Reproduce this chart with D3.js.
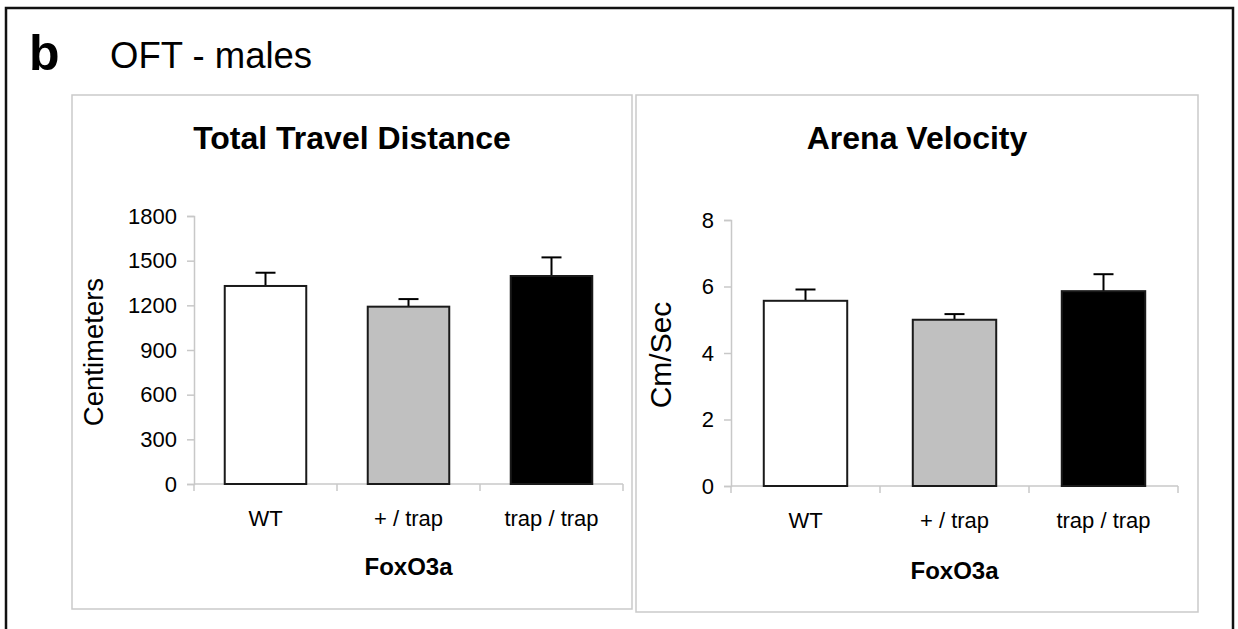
<!DOCTYPE html>
<html>
<head>
<meta charset="utf-8">
<script src="https://cdn.jsdelivr.net/npm/d3@7"></script>
<style>
  body { margin: 0; background: #fff; }
  svg text { font-family: "Liberation Sans", Arial, sans-serif; fill: #000; }
</style>
</head>
<body>
<svg id="fig" width="1238" height="629"></svg>
<script>
// genotype groups
const groups = ["WT", "+ / trap", "trap / trap"];
const barFills = ["#ffffff", "#c0c0c0", "#000000"];

// Total travel distance (cm), mean and SEM
const distance = [1330, 1191, 1397];
const distanceErr = [89, 51, 125];
const distanceTicks = [0, 300, 600, 900, 1200, 1500, 1800];

// Arena velocity (cm/sec), mean and SEM
const velocity = [5.57, 5.0, 5.86];
const velocityErr = [0.34, 0.17, 0.51];
const velocityTicks = [0, 2, 4, 6, 8];

const svg = d3.select("svg#fig");

// outer black frame, bottom edge runs off the page
svg.append("rect")
    .attr("x", 6).attr("y", 8)
    .attr("width", 1227).attr("height", 640)
    .attr("fill", "none")
    .attr("stroke", "#111")
    .attr("stroke-width", 2.5);

svg.append("text")
    .attr("x", 29).attr("y", 70)
    .style("font-size", "50px")
    .style("font-weight", "bold")
    .text("b");

svg.append("text")
    .attr("x", 110).attr("y", 68)
    .style("font-size", "36.5px")
    .text("OFT - males");

function drawPanel(p) {
    const g = svg.append("g");

    // light grey panel box
    g.append("rect")
        .attr("x", p.box[0]).attr("y", p.box[1])
        .attr("width", p.box[2]).attr("height", p.box[3])
        .attr("fill", "#fff")
        .attr("stroke", "#cacaca")
        .attr("stroke-width", 1.5);

    g.append("text")
        .attr("x", p.box[0] + p.box[2] / 2)
        .attr("y", 149)
        .attr("text-anchor", "middle")
        .style("font-size", "32px")
        .style("font-weight", "bold")
        .text(p.title);

    const x = d3.scaleBand()
        .domain(groups)
        .range([p.x0, p.x1])
        .paddingInner(p.pad)
        .paddingOuter(p.pad / 2);

    const y = d3.scaleLinear()
        .domain([0, p.ticks[p.ticks.length - 1]])
        .range([p.y0, p.y1]);

    // axes, drawn in light grey like the original
    const axisColor = "#c8c8c8";
    const yAxis = g.append("g")
        .attr("transform", `translate(${p.x0},0)`)
        .call(d3.axisLeft(y).tickValues(p.ticks).tickSize(7).tickPadding(10).tickFormat(d3.format("d")));
    yAxis.selectAll("path, line").attr("stroke", axisColor).attr("stroke-width", 1.5);
    yAxis.selectAll("text")
        .attr("fill", "#000")
        .style("font-size", "22px")
        .style("font-family", "Liberation Sans, Arial, sans-serif");

    // x axis: baseline with ticks at category boundaries
    const step = x.step();
    const bounds = d3.range(groups.length + 1).map(i => p.x0 + i * step);
    g.append("line")
        .attr("x1", p.x0).attr("x2", p.x1)
        .attr("y1", y(0)).attr("y2", y(0))
        .attr("stroke", axisColor).attr("stroke-width", 1.5);
    g.selectAll(".xtick")
        .data(bounds)
        .join("line")
        .attr("class", "xtick")
        .attr("x1", d => d).attr("x2", d => d)
        .attr("y1", y(0)).attr("y2", y(0) + 7)
        .attr("stroke", axisColor).attr("stroke-width", 1.5);

    g.selectAll(".xlab")
        .data(groups)
        .join("text")
        .attr("class", "xlab")
        .attr("x", d => x(d) + x.bandwidth() / 2)
        .attr("y", y(0) + 42)
        .attr("text-anchor", "middle")
        .style("font-size", "22px")
        .text(d => d);

    g.append("text")
        .attr("x", (p.x0 + p.x1) / 2)
        .attr("y", y(0) + p.foxGap)
        .attr("text-anchor", "middle")
        .style("font-size", "24px")
        .style("font-weight", "bold")
        .text("FoxO3a");

    g.append("text")
        .attr("transform", `translate(${p.ylabX},${(p.y0 + p.y1) / 2 + 2}) rotate(-90)`)
        .attr("text-anchor", "middle")
        .attr("dy", "0.35em")
        .style("font-size", p.ylabSize + "px")
        .text(p.ylab);

    // error bars go behind the bars, only the upper half shows
    const bw = x.bandwidth();
    g.selectAll(".err")
        .data(groups)
        .join("line")
        .attr("class", "err")
        .attr("x1", d => x(d) + bw / 2).attr("x2", d => x(d) + bw / 2)
        .attr("y1", (d, i) => y(p.values[i]))
        .attr("y2", (d, i) => y(p.values[i] + p.errs[i]))
        .attr("stroke", "#000").attr("stroke-width", 2);
    g.selectAll(".cap")
        .data(groups)
        .join("line")
        .attr("class", "cap")
        .attr("x1", d => x(d) + bw / 2 - 10).attr("x2", d => x(d) + bw / 2 + 10)
        .attr("y1", (d, i) => y(p.values[i] + p.errs[i]))
        .attr("y2", (d, i) => y(p.values[i] + p.errs[i]))
        .attr("stroke", "#000").attr("stroke-width", 2);

    g.selectAll(".bar")
        .data(groups)
        .join("rect")
        .attr("class", "bar")
        .attr("x", d => x(d))
        .attr("width", bw)
        .attr("y", (d, i) => y(p.values[i]))
        .attr("height", (d, i) => y(0) - y(p.values[i]))
        .attr("fill", (d, i) => barFills[i])
        .attr("stroke", "#1a1a1a")
        .attr("stroke-width", 2);
}

drawPanel({
    box: [72, 95, 560, 514],
    title: "Total Travel Distance",
    x0: 194, x1: 623, y0: 484, y1: 216, pad: 0.43,
    ticks: distanceTicks,
    values: distance, errs: distanceErr,
    ylab: "Centimeters", ylabX: 93, ylabSize: 27.5, foxGap: 91
});

drawPanel({
    box: [636, 95, 562, 517],
    title: "Arena Velocity",
    x0: 731, x1: 1178, y0: 486, y1: 220, pad: 0.44,
    ticks: velocityTicks,
    values: velocity, errs: velocityErr,
    ylab: "Cm/Sec", ylabX: 660, ylabSize: 30, foxGap: 93
});
</script>
</body>
</html>
